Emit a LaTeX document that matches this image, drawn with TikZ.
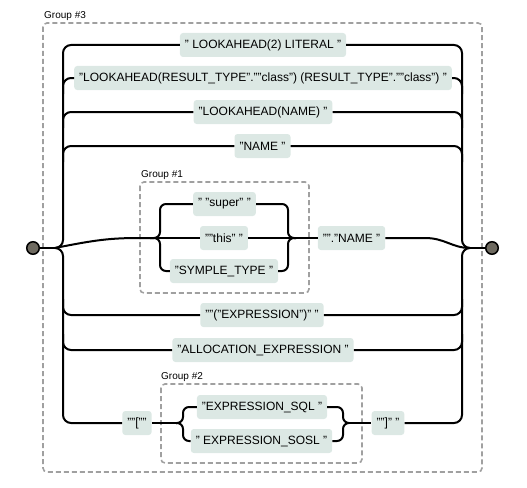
\documentclass[tikz,border=0pt]{standalone}
\usepackage{fontspec}
\setmainfont{Liberation Sans}
\definecolor{boxfill}{RGB}{220,232,228}
\definecolor{grpline}{RGB}{160,160,160}
\definecolor{dotfill}{RGB}{110,106,96}
\tikzset{
  term/.style={fill=boxfill, rounded corners=3pt, inner xsep=5pt, inner ysep=0pt,
    minimum height=24pt, font=\fontsize{12}{14}\selectfont, text=black},
  grp/.style={draw=grpline, line width=1.6pt, dash pattern=on 5pt off 3pt, rounded corners=4pt},
  grplabel/.style={font=\fontsize{10}{12}\selectfont, anchor=south west, inner sep=0pt},
  rail/.style={line width=2pt, rounded corners=8pt},
  brace/.style={line width=2pt, rounded corners=6pt},
  endpt/.style={circle, draw=black, line width=1.5pt, fill=dotfill, minimum size=12.5pt, inner sep=0pt}
}
\begin{document}
\begin{tikzpicture}[x=1pt,y=-1pt]
\useasboundingbox (0,0) rectangle (527,487);
% groups
\draw[grp] (43,23) rectangle (482,472);
\node[grplabel] (g3l) at (44,21) {Group \#3};
\draw[grp] (140,182) rectangle (309,293);
\node[grplabel] (g1l) at (141,180) {Group \#1};
\draw[grp] (161,384) rectangle (362,463);
\node[grplabel] (g2l) at (161,382) {Group \#2};
% end points
\node[endpt] (S) at (33,248) {};
\node[endpt] (E) at (492,248) {};
\coordinate (jL) at (55,248);
\coordinate (jR) at (470,248);
% terms
\node[term] (r1) at (263,45) {" LOOKAHEAD(2) LITERAL "};
\node[term] (r2) at (263,78) {"LOOKAHEAD(RESULT\_TYPE".""class") (RESULT\_TYPE".""class") "};
\node[term] (r3) at (263,112) {"LOOKAHEAD(NAME) "};
\node[term] (r4) at (262.5,146) {"NAME "};
\node[term] (sup) at (224.5,204) {" "super" "};
\node[term] (thi) at (224,238) {""this" "};
\node[term] (sym) at (224,271) {"SYMPLE\_TYPE "};
\node[term] (dn) at (351.5,238) {"".\kern0pt"NAME "};
\node[term] (r6) at (262,315) {""("EXPRESSION")" "};
\node[term] (r7) at (263,350) {"ALLOCATION\_EXPRESSION "};
\node[term] (lb) at (137,423) {""[""};
\node[term] (sql) at (262,407) {"EXPRESSION\_SQL "};
\node[term] (sosl) at (261.5,441) {" EXPRESSION\_SOSL "};
\node[term] (rb) at (388,423) {""]" "};
% junction coordinates
\coordinate (g1a) at (150,238);
\coordinate (g1b) at (296,238);
\coordinate (g2a) at (176,423);
\coordinate (g2b) at (349,423);
% start / end
\draw[line width=2pt] (S) -- (jL);
\draw[line width=2pt] (jR) -- (E);
% left rail
\draw[rail] (jL) -| (63,45) -- (r1.west);
\draw[rail] (jL) -| (63,423) -- (lb.west);
\draw[rail] (63,94) |- (r2.west);
\draw[rail] (63,128) |- (r3.west);
\draw[rail] (63,162) |- (r4.west);
\draw[rail] (63,299) |- (r6.west);
\draw[rail] (63,334) |- (r7.west);
% right rail
\draw[rail] (jR) -| (462,45) -- (r1.east);
\draw[rail] (jR) -| (462,423) -- (rb.east);
\draw[rail] (r2.east) -| (462,94);
\draw[rail] (r3.east) -| (462,128);
\draw[rail] (r4.east) -| (462,162);
\draw[rail] (r6.east) -| (462,299);
\draw[rail] (r7.east) -| (462,334);
% group 1 path
\draw[line width=2pt] (jL) .. controls (95,240) and (110,238) .. (140,238) -- (g1a);
\draw[brace] (g1a) -| (160,204) -- (sup.west);
\draw[line width=2pt] (g1a) -- (thi.west);
\draw[brace] (g1a) -| (160,271) -- (sym.west);
\draw[brace] (sup.east) -| (288,238) -- (g1b);
\draw[line width=2pt] (thi.east) -- (g1b);
\draw[brace] (sym.east) -| (288,238) -- (g1b);
\draw[line width=2pt] (g1b) -- (dn.west);
\draw[line width=2pt] (dn.east) -- (425,238) .. controls (445,238) and (452,248) .. (jR);
% group 2 path
\draw[line width=2pt] (lb.east) -- (g2a);
\draw[brace] (g2a) -| (183,407) -- (sql.west);
\draw[brace] (g2a) -| (183,441) -- (sosl.west);
\draw[brace] (sql.east) -| (343,423) -- (g2b);
\draw[brace] (sosl.east) -| (343,423) -- (g2b);
\draw[line width=2pt] (g2b) -- (rb.west);
\end{tikzpicture}
\end{document}
